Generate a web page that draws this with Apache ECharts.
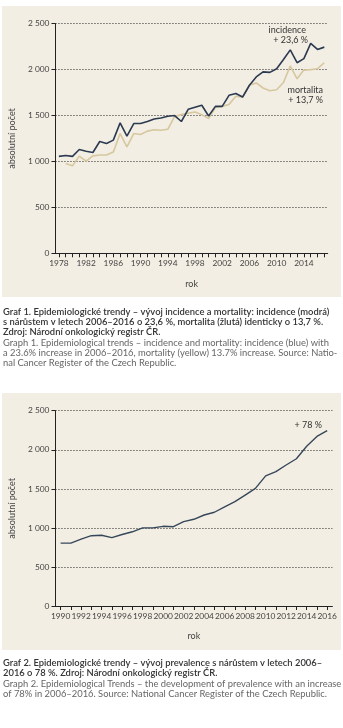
<!DOCTYPE html>
<html>
<head>
<meta charset="utf-8">
<script src="https://cdn.jsdelivr.net/npm/echarts@6/dist/echarts.min.js"></script>
<style>
  html, body { margin: 0; padding: 0; background: #ffffff; }
  #chart { width: 343px; height: 728px; }
</style>
</head>
<body>
<div id="chart"></div>
<script>
// Graf 1: incidence a mortalita, 1978–2017
const years1 = ['1978','1979','1980','1981','1982','1983','1984','1985','1986','1987',
  '1988','1989','1990','1991','1992','1993','1994','1995','1996','1997',
  '1998','1999','2000','2001','2002','2003','2004','2005','2006','2007',
  '2008','2009','2010','2011','2012','2013','2014','2015','2016','2017'];
const incidence = [1055,1065,1055,1130,1112,1098,1217,1196,1232,1420,
  1275,1413,1413,1435,1463,1474,1492,1500,1435,1568,
  1590,1612,1495,1600,1600,1720,1739,1702,1830,1920,
  1975,1970,2010,2110,2215,2075,2120,2285,2220,2245];
const mortality = [null,978,952,1058,1003,1061,1070,1070,1104,1304,
  1159,1304,1293,1330,1345,1340,1350,1490,1510,1525,
  1539,1510,1467,1587,1600,1620,1710,1700,1830,1855,
  1800,1770,1780,1860,2040,1900,1995,2000,2010,2075];

// Graf 2: prevalence, 1990–2016
const years2 = ['1990','1991','1992','1993','1994','1995','1996','1997','1998','1999',
  '2000','2001','2002','2003','2004','2005','2006','2007','2008','2009',
  '2010','2011','2012','2013','2014','2015','2016'];
const prevalence = [805,805,855,900,905,875,915,950,1000,1000,
  1020,1015,1080,1110,1165,1200,1270,1335,1420,1505,
  1665,1720,1805,1885,2045,2170,2245];

const yTicks = { min: 0, max: 2500, interval: 500 };

const caption1Cz = [
  'Graf 1. Epidemiologické trendy – vývoj incidence a mortality: incidence (modrá)',
  's nárůstem v letech 2006–2016 o 23,6 %, mortalita (žlutá) identicky o 13,7 %.',
  'Zdroj: Národní onkologický registr ČR.'
];
const caption1En = [
  'Graph 1. Epidemiological trends – incidence and mortality: incidence (blue) with',
  'a 23.6% increase in 2006–2016, mortality (yellow) 13.7% increase. Source: Natio-',
  'nal Cancer Register of the Czech Republic.'
];
const caption2Cz = [
  'Graf 2. Epidemiologické trendy – vývoj prevalence s nárůstem v letech 2006–',
  '2016 o 78 %. Zdroj: Národní onkologický registr ČR.'
];
const caption2En = [
  'Graph 2. Epidemiological Trends – the development of prevalence with an increase',
  'of 78% in 2006–2016. Source: National Cancer Register of the Czech Republic.'
];

const FONT = 'Lato, "Open Sans", sans-serif';
const PANEL = '#f3eee3';
const INK = '#222222';

function thousands(v) {
  return String(v).replace(/\B(?=(\d{3})+(?!\d))/g, ' ');
}

function xAxisFor(gridIndex, data, labelEvery) {
  return {
    type: 'category', gridIndex: gridIndex, data: data, boundaryGap: true,
    name: 'rok', nameLocation: 'middle', nameGap: 26,
    nameTextStyle: { fontFamily: FONT, fontSize: 9, color: '#444' },
    axisLine: { lineStyle: { color: INK, width: 1 } },
    axisTick: { show: true, interval: 0, alignWithLabel: true, length: 4, lineStyle: { color: INK } },
    axisLabel: { interval: labelEvery, fontFamily: FONT, fontSize: 8.4, color: '#444', margin: 6 },
    splitLine: { show: false }
  };
}

function yAxisFor(gridIndex, nameGap) {
  return {
    type: 'value', gridIndex: gridIndex,
    min: yTicks.min, max: yTicks.max, interval: yTicks.interval,
    name: 'absolutní počet', nameLocation: 'middle', nameGap: nameGap,
    nameTextStyle: { fontFamily: FONT, fontSize: 9, color: '#444' },
    axisLine: { show: true, lineStyle: { color: INK, width: 1 } },
    axisTick: { show: true, length: 4, lineStyle: { color: INK } },
    axisLabel: { fontFamily: FONT, fontSize: 8.4, color: '#444', margin: 6, formatter: thousands },
    splitLine: { show: true, lineStyle: { color: INK, width: 1, type: [1, 2] } }
  };
}

function captionLines(lines, top, color, weight) {
  return lines.map(function (t, i) {
    return {
      type: 'text', left: 3, top: top + i * 10.4, z: 5,
      style: { text: t, fill: color, font: weight + ' 9.4px ' + FONT }
    };
  });
}

function note(text, right, top) {
  return {
    type: 'text', right: right, top: top, z: 5,
    style: { text: text, fill: '#333', font: '9px ' + FONT, textAlign: 'right' }
  };
}

const chart = echarts.init(document.getElementById('chart'), null, { renderer: 'canvas' });

chart.setOption({
  backgroundColor: '#ffffff',
  animation: false,
  grid: [
    { left: 49, right: 15.3, top: 23.7, height: 229.6 },
    { left: 51.7, right: 10.7, top: 410.7, height: 195.3 }
  ],
  xAxis: [xAxisFor(0, years1, 3), xAxisFor(1, years2, 1)],
  yAxis: [yAxisFor(0, 36), yAxisFor(1, 38)],
  series: [
    {
      name: 'mortalita', type: 'line', xAxisIndex: 0, yAxisIndex: 0,
      data: mortality, showSymbol: false, connectNulls: false,
      lineStyle: { color: '#d6c79e', width: 1.6 }, z: 3
    },
    {
      name: 'incidence', type: 'line', xAxisIndex: 0, yAxisIndex: 0,
      data: incidence, showSymbol: false,
      lineStyle: { color: '#2b3a50', width: 1.6 }, z: 4
    },
    {
      name: 'prevalence', type: 'line', xAxisIndex: 1, yAxisIndex: 1,
      data: prevalence, showSymbol: false,
      lineStyle: { color: '#36475a', width: 1.4 }, z: 4
    }
  ],
  graphic: [
    { type: 'rect', left: 2, top: 6, z: -10, shape: { width: 339, height: 291 }, style: { fill: PANEL } },
    { type: 'rect', left: 2, top: 393, z: -10, shape: { width: 339, height: 257 }, style: { fill: PANEL } },
    note('incidence', 37, 26),
    note('+ 23,6 %', 35, 36),
    note('mortalita', 20, 86),
    note('+ 13,7 %', 20, 96),
    note('+ 78 %', 21, 421)
  ]
    .concat(captionLines(caption1Cz, 307, '#333333', '600'))
    .concat(captionLines(caption1En, 338, '#666666', 'normal'))
    .concat(captionLines(caption2Cz, 658, '#333333', '600'))
    .concat(captionLines(caption2En, 679, '#666666', 'normal'))
});
</script>
</body>
</html>
